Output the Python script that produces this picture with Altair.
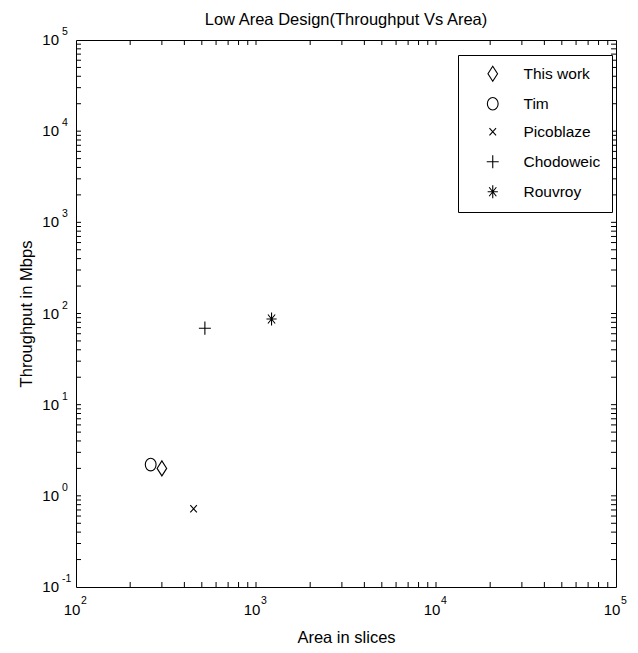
import altair as alt
import pandas as pd

# ---- data ----
series = ["This work", "Tim", "Picoblaze", "Chodoweic", "Rouvroy"]
area = [300, 260, 450, 520, 1220]
throughput = [2.0, 2.2, 0.72, 69, 87]

# axis decades (tick labels) and minor multipliers
x_major = [100, 1000, 10000, 100000]
x_exp = ["2", "3", "4", "5"]
y_major = [0.1, 1, 10, 100, 1000, 10000, 100000]
y_exp = ["-1", "0", "1", "2", "3", "4", "5"]
minor_mult = [2, 3, 4, 5, 6, 7, 8, 9]

# marker shapes (MATLAB style)
shape_paths = [
    "M0,-1.25L0.8,0L0,1.25L-0.8,0Z",                                  # diamond
    "M-0.9,0A0.9,1.05 0 1,0 0.9,0A0.9,1.05 0 1,0 -0.9,0Z",            # circle
    "M-0.55,-0.6L0.55,0.6M-0.55,0.6L0.55,-0.6",                       # x
    "M-1,0L1,0M0,-1.1L0,1.1",                                         # plus
    "M-0.85,0L0.85,0M0,-1.1L0,1.1M-0.6,-0.75L0.6,0.75M-0.6,0.75L0.6,-0.75",  # asterisk
]

W, H = 540, 547
FONT = "Liberation Sans, Arial, sans-serif"

df = pd.DataFrame({"series": series, "area": area, "throughput": throughput})
x_ticks_all = [m * d for d in x_major[:-1] for m in minor_mult] + x_major[1:-1]
y_ticks_all = [m * d for d in y_major[:-1] for m in minor_mult] + y_major[1:-1]
xt = pd.DataFrame({"v": x_ticks_all})
yt = pd.DataFrame({"v": y_ticks_all})
xl = pd.DataFrame({"v": x_major, "base": ["10"] * len(x_major), "e": x_exp})
yl = pd.DataFrame({"v": y_major, "base": ["10"] * len(y_major), "e": y_exp})

xs = alt.Scale(type="log", domain=[100, 100000], nice=False)
ys = alt.Scale(type="log", domain=[0.1, 100000], nice=False)

xa = alt.Axis(title="Area in slices", labels=False, ticks=False, domain=False, grid=False,
              titlePadding=42, titleFont=FONT, titleFontSize=16.5, titleFontWeight="normal",
              titleColor="black")
ya = alt.Axis(title="Throughput in Mbps", labels=False, ticks=False, domain=False, grid=False,
              titlePadding=42, titleFont=FONT, titleFontSize=16.5, titleFontWeight="normal",
              titleColor="black")

points = alt.Chart(df).mark_point(filled=False, color="black", strokeWidth=1.1, size=144, opacity=1).encode(
    x=alt.X("area:Q", scale=xs, axis=xa),
    y=alt.Y("throughput:Q", scale=ys, axis=ya),
    shape=alt.Shape("series:N", scale=alt.Scale(domain=series, range=shape_paths),
                    legend=alt.Legend(title="", orient="none", legendX=382, legendY=15,
                                      strokeColor="black", fillColor="white", padding=11,
                                      labelFont=FONT, labelFontSize=15.5, labelColor="black",
                                      labelOffset=23, symbolOffset=16, symbolSize=144,
                                      symbolStrokeColor="black", symbolStrokeWidth=1.1,
                                      symbolFillColor="transparent", rowPadding=11)),
)

tick_bottom = alt.Chart(xt).mark_rule(color="black", strokeWidth=1).encode(
    x=alt.X("v:Q", scale=xs, axis=xa), y=alt.value(H), y2=alt.value(H - 5))
tick_top = alt.Chart(xt).mark_rule(color="black", strokeWidth=1).encode(
    x=alt.X("v:Q", scale=xs, axis=xa), y=alt.value(0), y2=alt.value(5))
tick_left = alt.Chart(yt).mark_rule(color="black", strokeWidth=1).encode(
    y=alt.Y("v:Q", scale=ys, axis=ya), x=alt.value(0), x2=alt.value(5))
tick_right = alt.Chart(yt).mark_rule(color="black", strokeWidth=1).encode(
    y=alt.Y("v:Q", scale=ys, axis=ya), x=alt.value(W), x2=alt.value(W - 5))

xlab = alt.Chart(xl).mark_text(font=FONT, fontSize=15, align="center", baseline="middle", dx=-4,
                               color="black").encode(
    x=alt.X("v:Q", scale=xs, axis=xa), y=alt.value(H + 23), text="base:N")
xexp = alt.Chart(xl).mark_text(font=FONT, fontSize=10.5, align="left", baseline="middle", dx=5, dy=-9,
                               color="black").encode(
    x=alt.X("v:Q", scale=xs, axis=xa), y=alt.value(H + 23), text="e:N")
ylab = alt.Chart(yl).mark_text(font=FONT, fontSize=15, align="right", baseline="middle",
                               color="black").encode(
    y=alt.Y("v:Q", scale=ys, axis=ya), x=alt.value(-17), text="base:N")
yexp = alt.Chart(yl).mark_text(font=FONT, fontSize=10.5, align="left", baseline="middle", dy=-8,
                               color="black").encode(
    y=alt.Y("v:Q", scale=ys, axis=ya), x=alt.value(-14), text="e:N")

chart = alt.layer(
    points, tick_bottom, tick_top, tick_left, tick_right, xlab, xexp, ylab, yexp
).properties(
    width=W, height=H,
    title=alt.TitleParams("Low Area Design(Throughput Vs Area)", font=FONT, fontSize=16.5,
                          fontWeight="normal", color="black", anchor="middle", offset=-1),
    autosize=alt.AutoSizeParams(type="none"),
    padding={"left": 68, "top": 32, "right": 14, "bottom": 57},
    background="white",
).configure_view(stroke="black", strokeWidth=1, fill="white")

chart.save("out.html", embed_options={"renderer": "svg", "actions": False})
